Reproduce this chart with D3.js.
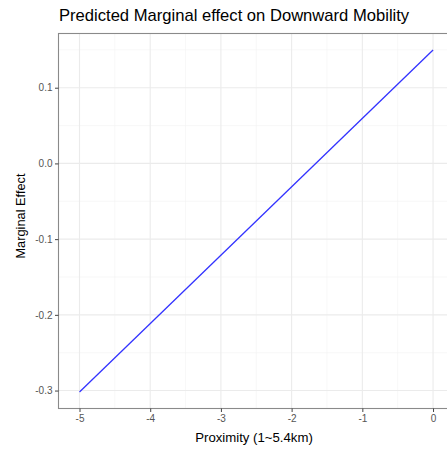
<!DOCTYPE html>
<html>
<head>
<meta charset="utf-8">
<script src="https://cdn.jsdelivr.net/npm/d3@7"></script>
<style>
  html, body { margin: 0; padding: 0; background: #fff; }
  svg { display: block; font-family: "Liberation Sans", Arial, sans-serif; }
</style>
</head>
<body>
<svg id="chart" width="447" height="450"></svg>
<script>
// Proximity values (x) and predicted marginal effect (y) at the line's ends
const proximity = [-5, 0];
const marginalEffect = [-0.302, 0.1497];

const xTicks = [-5, -4, -3, -2, -1, 0];
const yTicks = [-0.3, -0.2, -0.1, 0.0, 0.1];
const xMinor = [-4.5, -3.5, -2.5, -1.5, -0.5];
const yMinor = [-0.25, -0.15, -0.05, 0.05, 0.15];

const titleText = "Predicted Marginal effect on Downward Mobility";
const xTitle = "Proximity (1~5.4km)";
const yTitle = "Marginal Effect";

const svg = d3.select("#chart");
const panel = { left: 58.5, top: 33.5, right: 451, bottom: 408.5 };

const x = d3.scaleLinear().domain([-5.297, 0.254]).range([panel.left, panel.right]);
const y = d3.scaleLinear().domain([-0.3237, 0.1716]).range([panel.bottom, panel.top]);

const g = svg.append("g");

// panel background
g.append("rect")
  .attr("x", panel.left).attr("y", panel.top)
  .attr("width", panel.right - panel.left).attr("height", panel.bottom - panel.top)
  .attr("fill", "#fff");

// minor grid
g.selectAll(".xminor").data(xMinor).enter().append("line")
  .attr("x1", d => x(d)).attr("x2", d => x(d))
  .attr("y1", panel.top).attr("y2", panel.bottom)
  .attr("stroke", "#f2f2f2").attr("stroke-width", 0.6);
g.selectAll(".yminor").data(yMinor).enter().append("line")
  .attr("y1", d => y(d)).attr("y2", d => y(d))
  .attr("x1", panel.left).attr("x2", panel.right)
  .attr("stroke", "#f2f2f2").attr("stroke-width", 0.6);

// major grid
g.selectAll(".xmajor").data(xTicks).enter().append("line")
  .attr("x1", d => x(d)).attr("x2", d => x(d))
  .attr("y1", panel.top).attr("y2", panel.bottom)
  .attr("stroke", "#ebebeb").attr("stroke-width", 1.1);
g.selectAll(".ymajor").data(yTicks).enter().append("line")
  .attr("y1", d => y(d)).attr("y2", d => y(d))
  .attr("x1", panel.left).attr("x2", panel.right)
  .attr("stroke", "#ebebeb").attr("stroke-width", 1.1);

// marginal effect line
const pts = proximity.map((p, i) => [p, marginalEffect[i]]);
g.append("path")
  .datum(pts)
  .attr("d", d3.line().x(d => x(d[0])).y(d => y(d[1])))
  .attr("fill", "none")
  .attr("stroke", "#3333ff")
  .attr("stroke-width", 1.3);

// panel border
g.append("rect")
  .attr("x", panel.left).attr("y", panel.top)
  .attr("width", panel.right - panel.left).attr("height", panel.bottom - panel.top)
  .attr("fill", "none").attr("stroke", "#8a8a8a").attr("stroke-width", 1.1);

// axes (plain hyphen for negative numbers)
const hyphen = f => d => f(d).replace("\u2212", "-");
const xAxis = d3.axisBottom(x).tickValues(xTicks).tickSize(3.5).tickPadding(2.5)
  .tickFormat(hyphen(d3.format("d")));
const yAxis = d3.axisLeft(y).tickValues(yTicks).tickSize(3.5).tickPadding(2.5)
  .tickFormat(hyphen(d3.format(".1f")));

const gx = svg.append("g").attr("transform", `translate(0,${panel.bottom})`).call(xAxis);
const gy = svg.append("g").attr("transform", `translate(${panel.left},0)`).call(yAxis);
[gx, gy].forEach(a => {
  a.select(".domain").remove();
  a.selectAll(".tick line").attr("stroke", "#444").attr("stroke-width", 1);
  a.selectAll(".tick text").attr("fill", "#555").attr("font-size", "10px")
    .attr("font-family", "Liberation Sans, Arial, sans-serif");
});

// title and axis titles
svg.append("text")
  .attr("x", 59).attr("y", 20.5)
  .attr("font-size", "16.6px").attr("fill", "#000")
  .text(titleText);

svg.append("text")
  .attr("x", 254).attr("y", 441.5)
  .attr("text-anchor", "middle")
  .attr("font-size", "13.2px").attr("fill", "#000")
  .text(xTitle);

svg.append("text")
  .attr("transform", "translate(24.5,216) rotate(-90)")
  .attr("text-anchor", "middle")
  .attr("font-size", "12.8px").attr("fill", "#000")
  .text(yTitle);
</script>
</body>
</html>
